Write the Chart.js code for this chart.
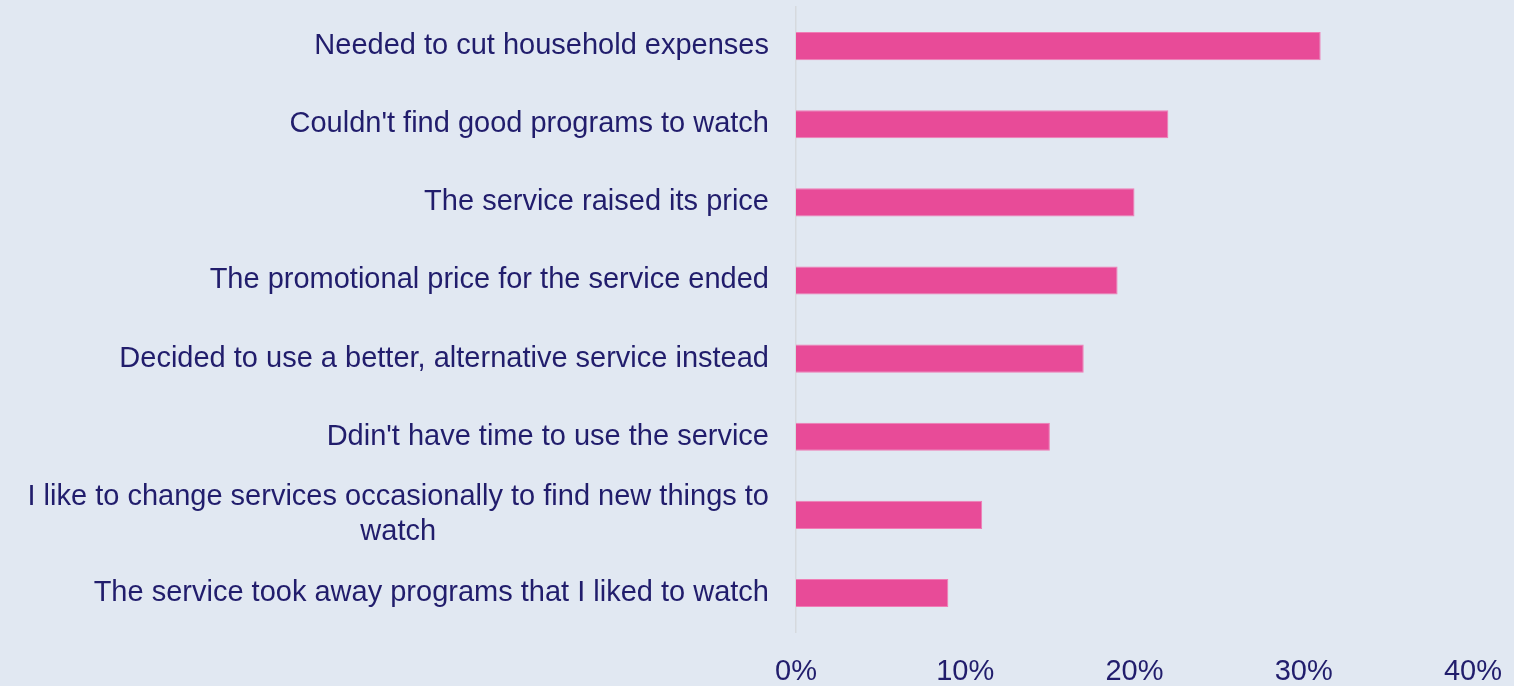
<!DOCTYPE html>
<html>
<head>
<meta charset="utf-8">
<script src="https://cdn.jsdelivr.net/npm/chart.js@4"></script>
<style>
  html, body { margin: 0; padding: 0; background: #e1e8f2; }
  #wrap { width: 1514px; height: 686px; position: relative; }
</style>
</head>
<body>
<div id="wrap"><canvas id="myChart"></canvas></div>
<script>
const reasons = [
    'Needed to cut household expenses',
    "Couldn't find good programs to watch",
    'The service raised its price',
    'The promotional price for the service ended',
    'Decided to use a better, alternative service instead',
    "Ddin't have time to use the service",
    ['I like to change services occasionally to find new things to', 'watch'],
    'The service took away programs that I liked to watch'
];
const shares = [31, 22, 20, 19, 17, 15, 11, 9];
const xTicks = [0, 10, 20, 30, 40];

const FONT = '"Liberation Sans", Arial, sans-serif';
const NAVY = '#211d6c';

// y labels drawn by hand so wrapped lines stay centred under the first line
const yLabels = {
    id: 'yLabels',
    afterDraw(chart) {
        const c = chart.ctx;
        const ys = chart.scales.y;
        const right = chart.chartArea.left - 27;
        c.save();
        c.font = '29px ' + FONT;
        c.fillStyle = NAVY;
        c.textBaseline = 'middle';
        c.textAlign = 'center';
        reasons.forEach((lab, i) => {
            const lines = Array.isArray(lab) ? lab : [lab];
            const w0 = c.measureText(lines[0]).width;
            const cx = right - w0 / 2;
            const lh = 35;
            const y0 = ys.getPixelForValue(i) - (lines.length - 1) * lh / 2;
            lines.forEach((ln, k) => c.fillText(ln, cx, y0 + k * lh));
        });
        c.restore();
    }
};

const ctx = document.getElementById('myChart');

new Chart(ctx, {
    type: 'bar',
    data: {
        labels: reasons,
        datasets: [{
            data: shares,
            backgroundColor: '#e84b98',
            borderColor: '#f07db6',
            borderWidth: 1,
            barPercentage: 0.36,
            categoryPercentage: 1
        }]
    },
    plugins: [yLabels],
    options: {
        indexAxis: 'y',
        responsive: true,
        maintainAspectRatio: false,
        animation: false,
        layout: { padding: { top: 7, right: 41, left: 0, bottom: 0 } },
        plugins: {
            legend: { display: false },
            tooltip: { enabled: false }
        },
        scales: {
            x: {
                min: 0,
                max: 40,
                afterBuildTicks: s => { s.ticks = xTicks.map(v => ({ value: v })); },
                grid: { display: false, drawTicks: false },
                border: { display: false },
                ticks: {
                    padding: 23,
                    color: NAVY,
                    font: { family: FONT, size: 29 },
                    callback: v => v + '%'
                },
                afterFit: s => {
                    s.height = 54;
                    s.paddingLeft = 0;
                    s.paddingRight = 0;
                }
            },
            y: {
                grid: { display: false, drawTicks: false },
                border: { display: true, color: '#d6d9de', width: 1.5 },
                ticks: { display: false },
                afterFit: s => { s.width = 796; }
            }
        }
    }
});
</script>
</body>
</html>
